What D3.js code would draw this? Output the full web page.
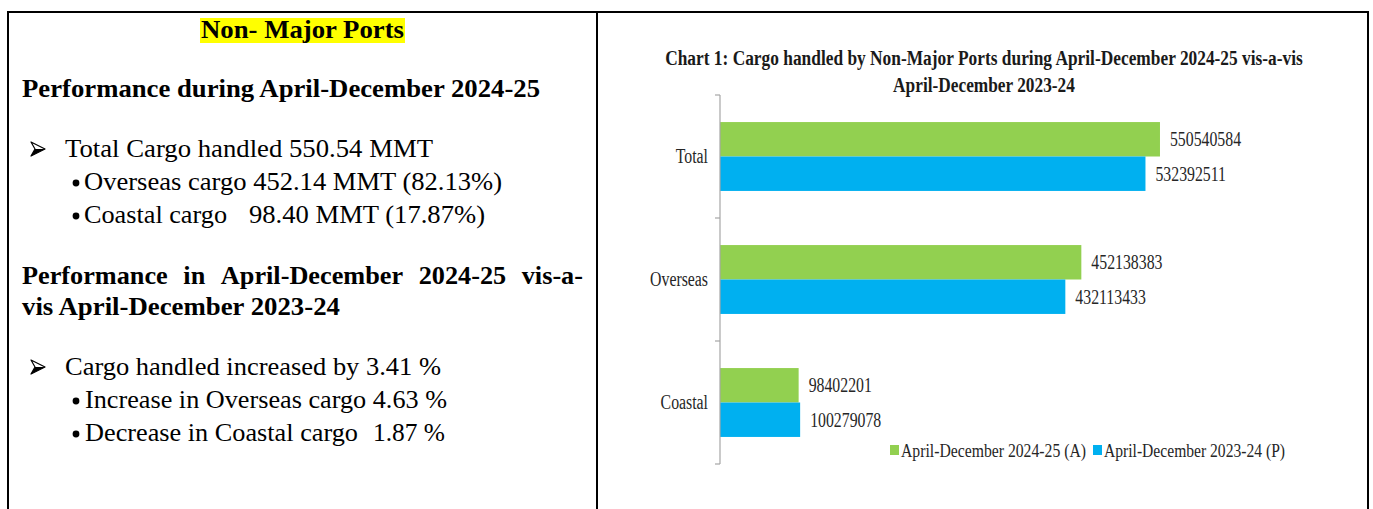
<!DOCTYPE html>
<html>
<head>
<meta charset="utf-8">
<script src="https://cdn.jsdelivr.net/npm/d3@7"></script>
<style>
  html, body { margin: 0; padding: 0; background: #fff; }
  svg { display: block; }
  text { font-family: "Liberation Serif", "Times New Roman", serif; }
</style>
</head>
<body>
<svg id="page" width="1373" height="509"></svg>
<script>
/* ── Data ─────────────────────────────────────────────────────── */
const categories  = ["Total", "Overseas", "Coastal"];
const seriesNames = ["April-December 2024-25 (A)", "April-December 2023-24 (P)"];
const values2425  = [550540584, 452138383, 98402201];
const values2324  = [532392511, 432113433, 100279078];
const seriesColors = ["#92D050", "#00B0F0"];

const chartTitle = [
  "Chart 1: Cargo handled by Non-Major Ports during April-December 2024-25 vis-a-vis",
  "April-December 2023-24"
];

const boxTitle  = "Non- Major Ports";
const heading1  = "Performance during April-December 2024-25";
const points1   = ["Total Cargo handled 550.54 MMT"];
const subs1     = ["Overseas cargo 452.14 MMT (82.13%)", "Coastal cargo", "98.40 MMT (17.87%)"];
const heading2a = "Performance in April-December 2024-25 vis-a-";
const heading2b = "vis April-December 2023-24";
const points2   = ["Cargo handled increased by 3.41 %"];
const subs2     = ["Increase in Overseas cargo 4.63 %", "Decrease in Coastal cargo", "1.87 %"];

(function () {
  "use strict";
  const svg = d3.select("#page");
  const SQUEEZE = 0.79;   // chart text is set narrow

  svg.append("rect").attr("width", 1373).attr("height", 509).attr("fill", "#fff");

  /* ── Table borders ──────────────────────────────────────────── */
  const border = svg.append("g").attr("stroke", "#000").attr("stroke-width", 2);
  border.append("line").attr("x1", 7).attr("x2", 1369).attr("y1", 12).attr("y2", 12);
  [8, 597, 1368].forEach(x =>
    border.append("line").attr("x1", x).attr("x2", x).attr("y1", 11).attr("y2", 509));

  /* ── Left cell text ─────────────────────────────────────────── */
  const left = svg.append("g").attr("fill", "#000");

  function txt(s, x, y, opt) {
    opt = opt || {};
    const t = left.append("text").attr("x", x).attr("y", y).text(s)
      .attr("font-size", opt.size || 26)
      .attr("font-weight", opt.bold ? "bold" : "normal");
    if (opt.len) t.attr("textLength", opt.len).attr("lengthAdjust", "spacingAndGlyphs");
    return t;
  }

  left.append("rect").attr("x", 200).attr("y", 18).attr("width", 205).attr("height", 25).attr("fill", "#FFFF00");
  txt(boxTitle, 201, 38, { bold: true, size: 25, len: 203 });

  txt(heading1, 22, 97, { bold: true, size: 25, len: 518 });

  // Wingdings-style arrowhead bullet
  function arrow(y) {
    const g = left.append("g").attr("transform", `translate(31,${y - 8})`);
    g.append("path").attr("d", "M0,-7 L14,0 L0,7 L4,0 Z")
      .attr("fill", "#fff").attr("stroke", "#000").attr("stroke-width", 1.2).attr("stroke-linejoin", "round");
    g.append("path").attr("d", "M14,0 L0,7 L4,0 Z").attr("fill", "#000");
  }
  function bullet(y) {
    left.append("circle").attr("cx", 76).attr("cy", y - 7).attr("r", 3.4);
  }

  arrow(157);
  txt(points1[0], 65, 157, { len: 368 });
  bullet(190);
  txt(subs1[0], 84, 190, { len: 418 });
  bullet(223);
  txt(subs1[1], 84, 223, { len: 143 });
  txt(subs1[2], 249, 223, { len: 236 });

  // justified heading line
  const words = heading2a.split(" ");
  const wEls = words.map(w => txt(w, 0, 284, { bold: true, size: 25 }));
  const widths = wEls.map(e => e.node().getComputedTextLength());
  const scaleW = 1.05;
  const total = d3.sum(widths) * scaleW;
  const gap = (583 - 22 - total) / (words.length - 1);
  let cx = 22;
  wEls.forEach((e, i) => {
    e.attr("x", cx).attr("textLength", widths[i] * scaleW).attr("lengthAdjust", "spacingAndGlyphs");
    cx += widths[i] * scaleW + gap;
  });
  txt(heading2b, 22, 315, { bold: true, size: 25, len: 318 });

  arrow(375);
  txt(points2[0], 65, 375, { len: 376 });
  bullet(408);
  txt(subs2[0], 85, 408, { len: 362 });
  bullet(441);
  txt(subs2[1], 85, 441, { len: 273 });
  txt(subs2[2], 373, 441, { len: 72 });

  /* ── Chart ──────────────────────────────────────────────────── */
  const chart = svg.append("g");

  // title: narrowed with a transform so its box stays inside the cell
  const titleWidth = [638, 182];
  chartTitle.forEach((s, i) => {
    const g = chart.append("g");
    const t = g.append("text").attr("x", 0).attr("y", 0).text(s)
      .attr("text-anchor", "middle").attr("font-weight", "bold").attr("font-size", 20)
      .attr("fill", "#1a1a1a");
    const k = titleWidth[i] / t.node().getComputedTextLength();
    g.attr("transform", `translate(984,${65 + i * 27}) scale(${k},1)`);
  });

  const axisX = 720;
  const x = d3.scaleLinear().domain([0, 600e6]).range([axisX, axisX + 479.5]);
  const y0 = d3.scaleBand().domain(categories).range([95, 464]).paddingInner(0.44).paddingOuter(0.22);
  const y1 = d3.scaleBand().domain(seriesNames).range([0, y0.bandwidth()]);

  const rows = categories.map((c, i) => ({ cat: c, vals: [values2425[i], values2324[i]] }));

  const grp = chart.selectAll("g.cat").data(rows).join("g")
    .attr("class", "cat")
    .attr("transform", d => `translate(0,${y0(d.cat)})`);

  grp.selectAll("rect").data(d => d.vals.map((v, j) => ({ v, s: seriesNames[j], j }))).join("rect")
    .attr("x", x(0))
    .attr("y", d => y1(d.s))
    .attr("width", d => x(d.v) - x(0))
    .attr("height", y1.bandwidth())
    .attr("fill", d => seriesColors[d.j]);

  // narrow a text element to SQUEEZE of its natural width
  function squeeze(sel) {
    sel.each(function () {
      const w = this.getComputedTextLength();
      d3.select(this).attr("textLength", w * SQUEEZE).attr("lengthAdjust", "spacingAndGlyphs");
    });
  }

  grp.selectAll("text.val").data(d => d.vals.map((v, j) => ({ v, s: seriesNames[j] }))).join("text")
    .attr("class", "val")
    .attr("x", d => x(d.v) + 10)
    .attr("y", d => y1(d.s) + y1.bandwidth() / 2)
    .attr("dy", "0.35em")
    .attr("font-size", 20)
    .attr("fill", "#262626")
    .text(d => d.v)
    .call(squeeze);

  // category axis (labels at band centres)
  const axis = chart.append("g").attr("transform", `translate(${axisX},0)`)
    .call(d3.axisLeft(y0).tickSize(0).tickPadding(12));
  axis.select(".domain").remove();
  axis.selectAll("text").attr("font-size", 20).attr("fill", "#262626")
    .style("font-family", "'Liberation Serif', serif")
    .call(squeeze);

  // axis line + boundary ticks
  const step = y0.step();
  const top = 95;
  const bounds = d3.range(categories.length + 1).map(i => top + i * step);
  chart.append("line").attr("x1", axisX).attr("x2", axisX)
    .attr("y1", bounds[0]).attr("y2", bounds[bounds.length - 1])
    .attr("stroke", "#a6a6a6").attr("stroke-width", 1.2);
  chart.selectAll("line.tick").data(bounds).join("line")
    .attr("class", "tick")
    .attr("x1", axisX - 5).attr("x2", axisX)
    .attr("y1", d => d).attr("y2", d => d)
    .attr("stroke", "#a6a6a6").attr("stroke-width", 1.2);

  /* ── Legend ─────────────────────────────────────────────────── */
  const legendX = [890, 1093];
  const legendLen = [185, 181];
  const leg = chart.selectAll("g.leg").data(seriesNames).join("g")
    .attr("class", "leg")
    .attr("transform", (d, i) => `translate(${legendX[i]},450)`);
  leg.append("rect").attr("x", 0).attr("y", -5).attr("width", 9).attr("height", 10)
    .attr("fill", (d, i) => seriesColors[i]);
  leg.append("text").attr("x", 11).attr("dy", "0.35em").attr("font-size", 19)
    .attr("fill", "#262626")
    .attr("textLength", (d, i) => legendLen[i]).attr("lengthAdjust", "spacingAndGlyphs")
    .text(d => d);
})();
</script>
</body>
</html>
